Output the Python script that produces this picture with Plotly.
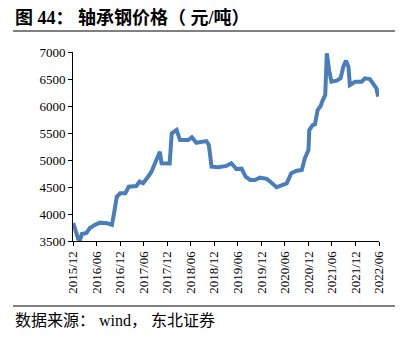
import plotly.graph_objects as go

dates = ["2015-12-03", "2015-12-20", "2016-01-10", "2016-01-25", "2016-02-08", "2016-03-14",
         "2016-04-10", "2016-05-20", "2016-06-28", "2016-08-20", "2016-09-28", "2016-10-10",
         "2016-11-05", "2016-12-01", "2017-01-10", "2017-02-05", "2017-04-05", "2017-05-01",
         "2017-05-28", "2017-07-05", "2017-08-01", "2017-08-28", "2017-09-20", "2017-10-05",
         "2017-10-18", "2017-11-01", "2017-12-20", "2018-01-05", "2018-02-12", "2018-03-10",
         "2018-05-12", "2018-06-10", "2018-07-01", "2018-07-15", "2018-10-01", "2018-10-20",
         "2018-11-10", "2019-01-01", "2019-03-05", "2019-04-12", "2019-05-10", "2019-05-20",
         "2019-07-01", "2019-08-01", "2019-09-05", "2019-10-12", "2019-11-20", "2020-01-12",
         "2020-02-18", "2020-03-28", "2020-04-25", "2020-06-15", "2020-07-20", "2020-09-01",
         "2020-10-10", "2020-11-03", "2020-12-01", "2020-12-07", "2021-01-03", "2021-01-20",
         "2021-02-10", "2021-03-05", "2021-03-22", "2021-04-10", "2021-04-22", "2021-05-03",
         "2021-05-10", "2021-05-28", "2021-07-07", "2021-08-07", "2021-08-28", "2021-09-18",
         "2021-10-07", "2021-10-18", "2021-11-28", "2022-01-18", "2022-02-12", "2022-03-22",
         "2022-04-15", "2022-05-12", "2022-05-25"]
prices = [3830, 3700, 3540, 3520, 3630, 3650,
          3740, 3800, 3840, 3830, 3800, 3950,
          4320, 4383, 4383, 4505, 4518, 4600,
          4570, 4690, 4783, 4940, 5062, 5154,
          4940, 4935, 4935, 5494, 5556, 5370,
          5370, 5420, 5370, 5320, 5350, 5278,
          4876, 4865, 4890, 4940, 4865, 4835,
          4840, 4690, 4630, 4630, 4673, 4650,
          4580, 4495, 4520, 4568, 4754, 4802,
          4815, 5032, 5185, 5556, 5648, 5660,
          5926, 6000, 6111, 6204, 6975, 6728,
          6660, 6450, 6470, 6513, 6728, 6840,
          6728, 6389, 6450, 6450, 6513, 6500,
          6432, 6327, 6173]

tick_dates = ["2015-12-01", "2016-06-01", "2016-12-01", "2017-06-01", "2017-12-01",
              "2018-06-01", "2018-12-01", "2019-06-01", "2019-12-01", "2020-06-01",
              "2020-12-01", "2021-06-01", "2021-12-01", "2022-06-01"]
tick_labels = ["2015/12", "2016/06", "2016/12", "2017/06", "2017/12", "2018/06", "2018/12",
               "2019/06", "2019/12", "2020/06", "2020/12", "2021/06", "2021/12", "2022/06"]
y_ticks = [3500, 4000, 4500, 5000, 5500, 6000, 6500, 7000]

title_text = "<b>图 44： 轴承钢价格（ 元/吨）</b>"
source_text = "数据来源： wind， 东北证券"

serif = "Liberation Serif, Times New Roman, Noto Sans CJK SC, serif"

fig = go.Figure()
fig.add_trace(go.Scatter(x=dates, y=prices, mode="lines",
                         line=dict(color="#4a7ebb", width=4), showlegend=False))

fig.update_layout(
    width=409, height=340,
    margin=dict(l=73, r=30, t=52, b=99),
    paper_bgcolor="white", plot_bgcolor="white",
    font=dict(family=serif, size=13, color="black"),
    xaxis=dict(type="date", range=["2015-12-01", "2022-06-01"],
               tickvals=tick_dates, ticktext=tick_labels, tickangle=-90,
               showline=True, linecolor="black", linewidth=1,
               ticks="outside", ticklen=4, tickcolor="black",
               showgrid=False, zeroline=False, tickfont=dict(size=13)),
    yaxis=dict(range=[3500, 7000], tickvals=y_ticks,
               showline=True, linecolor="black", linewidth=1,
               ticks="outside", ticklen=4, tickcolor="black",
               showgrid=False, zeroline=False, tickfont=dict(size=13)),
    shapes=[
        dict(type="line", xref="paper", yref="paper", x0=-0.196, x1=1.052,
             y0=1.111, y1=1.111, line=dict(color="#808080", width=2)),
        dict(type="line", xref="paper", yref="paper", x0=-0.196, x1=1.052,
             y0=-0.344, y1=-0.344, line=dict(color="#808080", width=2)),
    ],
    annotations=[
        dict(text=title_text, xref="paper", yref="paper", x=-0.196, y=1.18,
             xanchor="left", yanchor="middle", showarrow=False,
             font=dict(family="Liberation Serif, Noto Sans CJK SC", size=18, color="black")),
        dict(text=source_text, xref="paper", yref="paper", x=-0.196, y=-0.418,
             xanchor="left", yanchor="middle", showarrow=False,
             font=dict(family="Liberation Serif, Noto Sans CJK SC", size=16, color="black")),
    ],
)

fig.write_html("out.html")
